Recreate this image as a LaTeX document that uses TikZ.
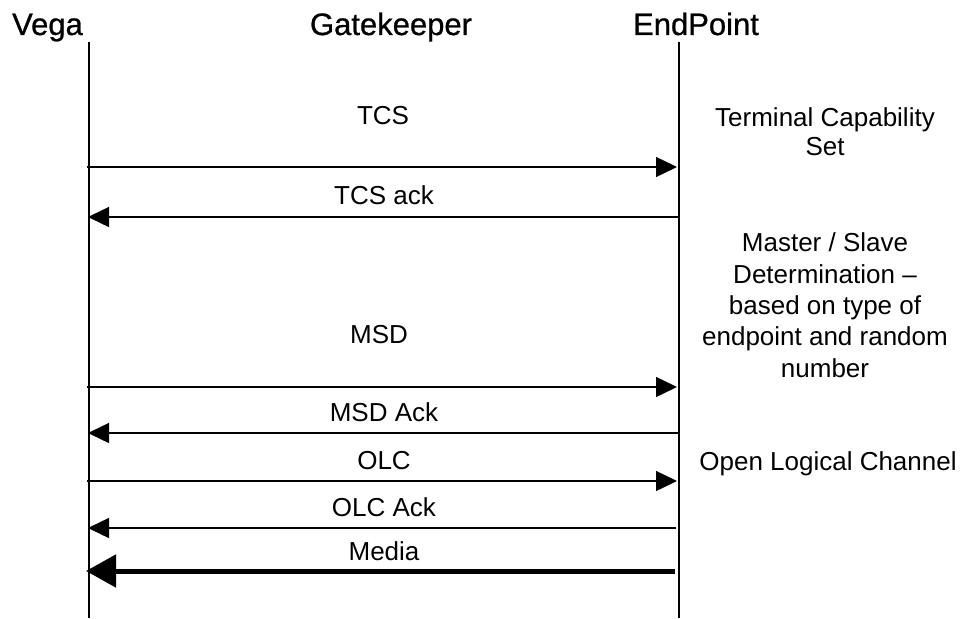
\documentclass[tikz,border=0pt]{standalone}
\usepackage{fontspec}
\setmainfont{Liberation Sans}
\newfontface\hdrface{Liberation Sans}[FakeBold=0.8]
\usetikzlibrary{arrows.meta}
\tikzset{
  lifeline/.style={line width=1.8pt, black},
  msg/.style={line width=1.4pt, black, -{Triangle[length=21pt,width=20pt]}},
  media/.style={line width=5pt, black, -{Triangle[length=30pt,width=32pt]}},
  header/.style={font=\hdrface\fontsize{31}{34}\selectfont, anchor=base, inner sep=0pt},
  lbl/.style={font=\fontsize{26}{30}\selectfont, anchor=base, inner sep=0pt},
  note/.style={font=\fontsize{26}{31}\selectfont, align=center, anchor=base, inner sep=0pt},
}
\begin{document}
\begin{tikzpicture}[x=1pt,y=-1pt]
\useasboundingbox (0,0) rectangle (965,618);
% headers
\node[header] (hv) at (47.5,35) {Vega};
\node[header] (hg) at (391,35) {Gatekeeper};
\node[header] (he) at (696,35) {EndPoint};
% lifelines
\coordinate (vtop) at (89,42);
\coordinate (vbot) at (89,618);
\coordinate (etop) at (679,42);
\coordinate (ebot) at (679,618);
\draw[lifeline] (vtop) -- (vbot);
\draw[lifeline] (etop) -- (ebot);
% message end points
\coordinate (v1) at (87,167);   \coordinate (e1) at (677,167);
\coordinate (v2) at (88,217);   \coordinate (e2) at (679,217);
\coordinate (v3) at (87,387);   \coordinate (e3) at (677,387);
\coordinate (v4) at (88,433);   \coordinate (e4) at (678,433);
\coordinate (v5) at (87,481);   \coordinate (e5) at (677,481);
\coordinate (v6) at (88,528);   \coordinate (e6) at (676,528);
\coordinate (v7) at (86,571);   \coordinate (e7) at (675,571);
% messages
\draw[msg] (v1) -- (e1);
\draw[msg] (e2) -- (v2);
\draw[msg] (v3) -- (e3);
\draw[msg] (e4) -- (v4);
\draw[msg] (v5) -- (e5);
\draw[msg] (e6) -- (v6);
\draw[media] (e7) -- (v7);
% labels
\node[lbl] (l1) at (383,124) {TCS};
\node[lbl] (l2) at (384,204) {TCS ack};
\node[lbl] (l3) at (379,343) {MSD};
\node[lbl] (l4) at (384,421) {MSD Ack};
\node[lbl] (l5) at (384,469) {OLC};
\node[lbl] (l6) at (384,516) {OLC Ack};
\node[lbl] (l7) at (384,560) {Media};
% notes (base anchor = baseline of last line)
\node[note, font=\fontsize{26}{28.5}\selectfont] (n1) at (825,155) {Terminal Capability\\Set};
\node[note, font=\fontsize{26}{31.3}\selectfont] (n2) at (825,377) {Master / Slave\\Determination --\\based on type of\\endpoint and random\\number};
\node[note] (n3) at (828,470) {Open Logical Channel};
\end{tikzpicture}
\end{document}
